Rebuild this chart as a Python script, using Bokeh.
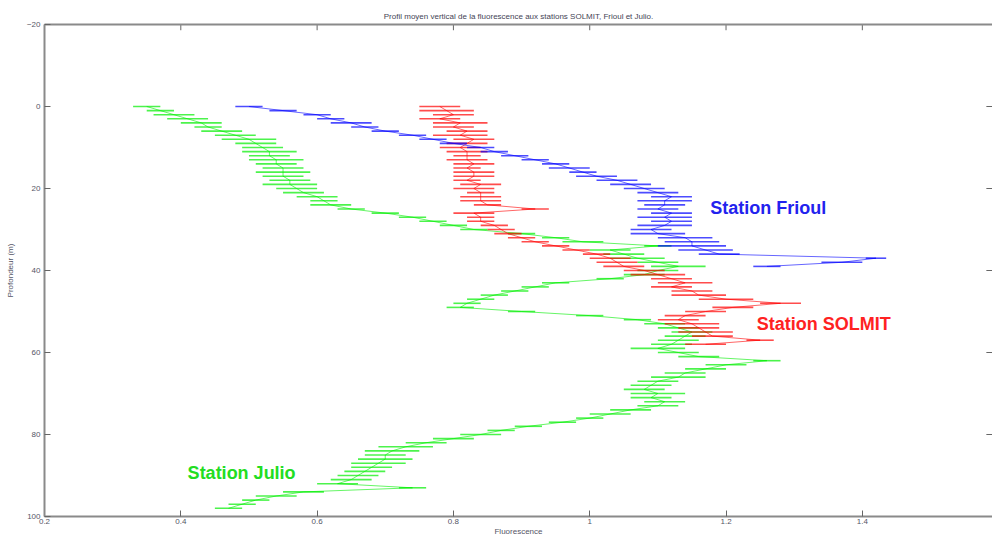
from bokeh.plotting import figure
from bokeh.models import Range1d, FixedTicker, LinearAxis, Title, Label, ColumnDataSource
from bokeh.embed import file_html
from bokeh.resources import INLINE

# ---------------- data ----------------
julio_depth = list(range(0, 99))
julio_fluo = [0.35, 0.37, 0.39, 0.41, 0.43, 0.44, 0.46, 0.48, 0.50, 0.51,
              0.52, 0.53, 0.53, 0.54, 0.54, 0.55, 0.55, 0.55, 0.56, 0.56,
              0.57, 0.58, 0.60, 0.61, 0.62, 0.65, 0.70, 0.74, 0.77, 0.80,
              0.83, 0.90, 0.95, 0.99, 1.10, 1.03, 1.05, 1.07, 1.10, 1.13,
              1.10, 1.08, 1.03, 0.95, 0.92, 0.89, 0.86, 0.84, 0.82, 0.81,
              0.90, 1.00, 1.07, 1.11, 1.13, 1.15, 1.14, 1.13, 1.12, 1.10,
              1.13, 1.16, 1.26, 1.20, 1.17, 1.14, 1.13, 1.10, 1.09, 1.08,
              1.10, 1.09, 1.11, 1.10, 1.06, 1.03, 1.00, 0.96, 0.91, 0.87,
              0.84, 0.80, 0.76, 0.73, 0.71, 0.70, 0.70, 0.69, 0.68, 0.67,
              0.66, 0.65, 0.63, 0.74, 0.58, 0.54, 0.51, 0.49, 0.47]
julio_err = [0.02, 0.02, 0.03, 0.03, 0.03, 0.02, 0.03, 0.03, 0.04, 0.03,
             0.03, 0.04, 0.03, 0.04, 0.03, 0.03, 0.04, 0.03, 0.03, 0.04,
             0.03, 0.03, 0.03, 0.02, 0.03, 0.02, 0.02, 0.02, 0.02, 0.02,
             0.02, 0.02, 0.02, 0.03, 0.02, 0.03, 0.03, 0.04, 0.03, 0.04,
             0.03, 0.03, 0.02, 0.02, 0.02, 0.02, 0.02, 0.02, 0.02, 0.02,
             0.02, 0.02, 0.02, 0.03, 0.03, 0.03, 0.03, 0.03, 0.03, 0.04,
             0.03, 0.03, 0.02, 0.03, 0.03, 0.03, 0.04, 0.03, 0.03, 0.03,
             0.04, 0.03, 0.03, 0.03, 0.03, 0.03, 0.02, 0.02, 0.02, 0.02,
             0.03, 0.03, 0.03, 0.04, 0.04, 0.03, 0.04, 0.04, 0.03, 0.03,
             0.03, 0.03, 0.03, 0.02, 0.03, 0.03, 0.02, 0.02, 0.02]

solmit_depth = list(range(0, 59))
solmit_fluo = [0.78, 0.79, 0.80, 0.78, 0.81, 0.80, 0.82, 0.81, 0.83, 0.82,
               0.81, 0.82, 0.82, 0.82, 0.83, 0.82, 0.83, 0.83, 0.82, 0.84,
               0.83, 0.84, 0.84, 0.84, 0.85, 0.92, 0.83, 0.84, 0.84, 0.86,
               0.87, 0.88, 0.90, 0.92, 0.95, 0.98, 1.01, 1.03, 1.04, 1.05,
               1.08, 1.10, 1.12, 1.14, 1.12, 1.15, 1.16, 1.20, 1.28, 1.21,
               1.17, 1.14, 1.13, 1.15, 1.16, 1.17, 1.18, 1.25, 1.17]
solmit_err = [0.03, 0.04, 0.03, 0.03, 0.04, 0.03, 0.03, 0.04, 0.03, 0.03,
              0.03, 0.03, 0.02, 0.03, 0.03, 0.02, 0.03, 0.03, 0.02, 0.03,
              0.03, 0.02, 0.03, 0.03, 0.02, 0.02, 0.03, 0.02, 0.02, 0.02,
              0.02, 0.02, 0.02, 0.02, 0.02, 0.02, 0.02, 0.03, 0.03, 0.03,
              0.03, 0.04, 0.03, 0.04, 0.03, 0.03, 0.04, 0.04, 0.03, 0.03,
              0.03, 0.03, 0.03, 0.04, 0.03, 0.04, 0.03, 0.02, 0.03]

frioul_depth = list(range(0, 40))
frioul_fluo = [0.50, 0.55, 0.60, 0.62, 0.65, 0.67, 0.70, 0.74, 0.77, 0.80,
               0.84, 0.86, 0.89, 0.92, 0.95, 0.97, 0.99, 1.01, 1.04, 1.06,
               1.08, 1.10, 1.12, 1.11, 1.11, 1.10, 1.12, 1.11, 1.12, 1.11,
               1.09, 1.10, 1.14, 1.15, 1.15, 1.17, 1.19, 1.42, 1.37, 1.26]
frioul_err = [0.02, 0.02, 0.02, 0.02, 0.03, 0.02, 0.02, 0.02, 0.02, 0.02,
              0.02, 0.02, 0.02, 0.02, 0.02, 0.03, 0.02, 0.03, 0.03, 0.03,
              0.03, 0.03, 0.03, 0.04, 0.03, 0.03, 0.03, 0.04, 0.03, 0.04,
              0.03, 0.04, 0.04, 0.04, 0.05, 0.04, 0.03, 0.015, 0.03, 0.02]

x_ticks = [0.2, 0.4, 0.6, 0.8, 1.0, 1.2, 1.4, 1.6]
x_tick_labels = {0.2: "0.2", 0.4: "0.4", 0.6: "0.6", 0.8: "0.8", 1.0: "1", 1.2: "1.2", 1.4: "1.4", 1.6: "1.6"}
y_ticks = [-20, 0, 20, 40, 60, 80, 100]

title_text = "Profil moyen vertical de la fluorescence aux stations SOLMIT, Frioul et Julio."
x_label = "Fluorescence"
y_label = "Profondeur (m)"

stations = [
    ("Station Julio", julio_depth, julio_fluo, julio_err, "#00ee00", "#22dd22", 0.41, 89.5),
    ("Station SOLMIT", solmit_depth, solmit_fluo, solmit_err, "#ff0000", "#ff2222", 1.245, 53.0),
    ("Station Frioul", frioul_depth, frioul_fluo, frioul_err, "#0000ff", "#2222ee", 1.177, 24.8),
]

X0, X1 = 0.2, 1.591
Y_TOP, Y_BOT = -20, 100

# ---------------- figure ----------------
p = figure(width=992, height=538, output_backend="svg", toolbar_location=None,
           x_range=Range1d(X0, X1), y_range=Range1d(Y_BOT, Y_TOP),
           min_border_left=44, min_border_right=0, min_border_top=24, min_border_bottom=21)
p.background_fill_color = "white"
p.border_fill_color = "white"
p.outline_line_color = None
p.xgrid.visible = False
p.ygrid.visible = False

gray = "#8a8a8a"
tick_col = "#666666"
for ax in (p.xaxis[0], p.yaxis[0]):
    ax.axis_line_color = gray
    ax.axis_line_width = 2
    ax.major_tick_line_color = tick_col
    ax.major_tick_in = 6
    ax.major_tick_out = 0
    ax.minor_tick_line_color = None
    ax.major_label_text_font = "Liberation Sans"
    ax.major_label_text_font_size = "8px"
    ax.major_label_text_color = "#555566"
    ax.axis_label_text_font = "Liberation Sans"
    ax.axis_label_text_font_size = "8px"
    ax.axis_label_text_font_style = "normal"
    ax.axis_label_text_color = "#555566"

p.xaxis[0].ticker = FixedTicker(ticks=x_ticks)
p.xaxis[0].major_label_overrides = x_tick_labels
p.xaxis[0].axis_label = x_label
p.xaxis[0].major_label_standoff = 2
p.xaxis[0].axis_label_standoff = 0
p.yaxis[0].ticker = FixedTicker(ticks=y_ticks)
p.yaxis[0].axis_label = y_label
p.yaxis[0].major_label_standoff = 4
p.yaxis[0].axis_label_standoff = 9

# top spine (no ticks/labels on the axis itself)
top = LinearAxis(ticker=FixedTicker(ticks=[]), axis_line_color=gray, axis_line_width=2,
                 major_tick_in=0, major_tick_out=0, minor_tick_line_color=None,
                 major_label_standoff=0)
p.add_layout(top, "above")

p.add_layout(Title(text=title_text, align="center", text_font="Liberation Sans",
                   text_font_size="8px", text_font_style="normal", text_color="#444455",
                   standoff=8), "above")

# inward ticks on top and right edges (box style)
top_ticks = [t for t in x_ticks if X0 <= t <= X1]
p.segment(x0=top_ticks, x1=top_ticks, y0=[Y_TOP] * len(top_ticks),
          y1=[Y_TOP + 1.4] * len(top_ticks), line_color=tick_col, line_width=1)
p.segment(x0=[X1 - 0.009] * len(y_ticks), x1=[X1] * len(y_ticks), y0=y_ticks, y1=y_ticks,
          line_color=tick_col, line_width=1)

for name, depth, fluo, err, col, tcol, lx, ly in stations:
    src = ColumnDataSource(dict(
        y=depth, x=fluo,
        x0=[f - e for f, e in zip(fluo, err)],
        x1=[f + e for f, e in zip(fluo, err)]))
    p.segment(x0="x0", y0="y", x1="x1", y1="y", source=src,
              line_color=col, line_width=1.6, line_alpha=0.7)
    p.line(x="x", y="y", source=src, line_color=col, line_width=1, line_alpha=0.6)
    p.add_layout(Label(x=lx, y=ly, text=name, text_color=tcol,
                       text_font="Liberation Sans", text_font_size="18px",
                       text_font_style="bold", text_baseline="middle", text_align="left"))

open("out.html", "w").write(file_html(p, INLINE))
